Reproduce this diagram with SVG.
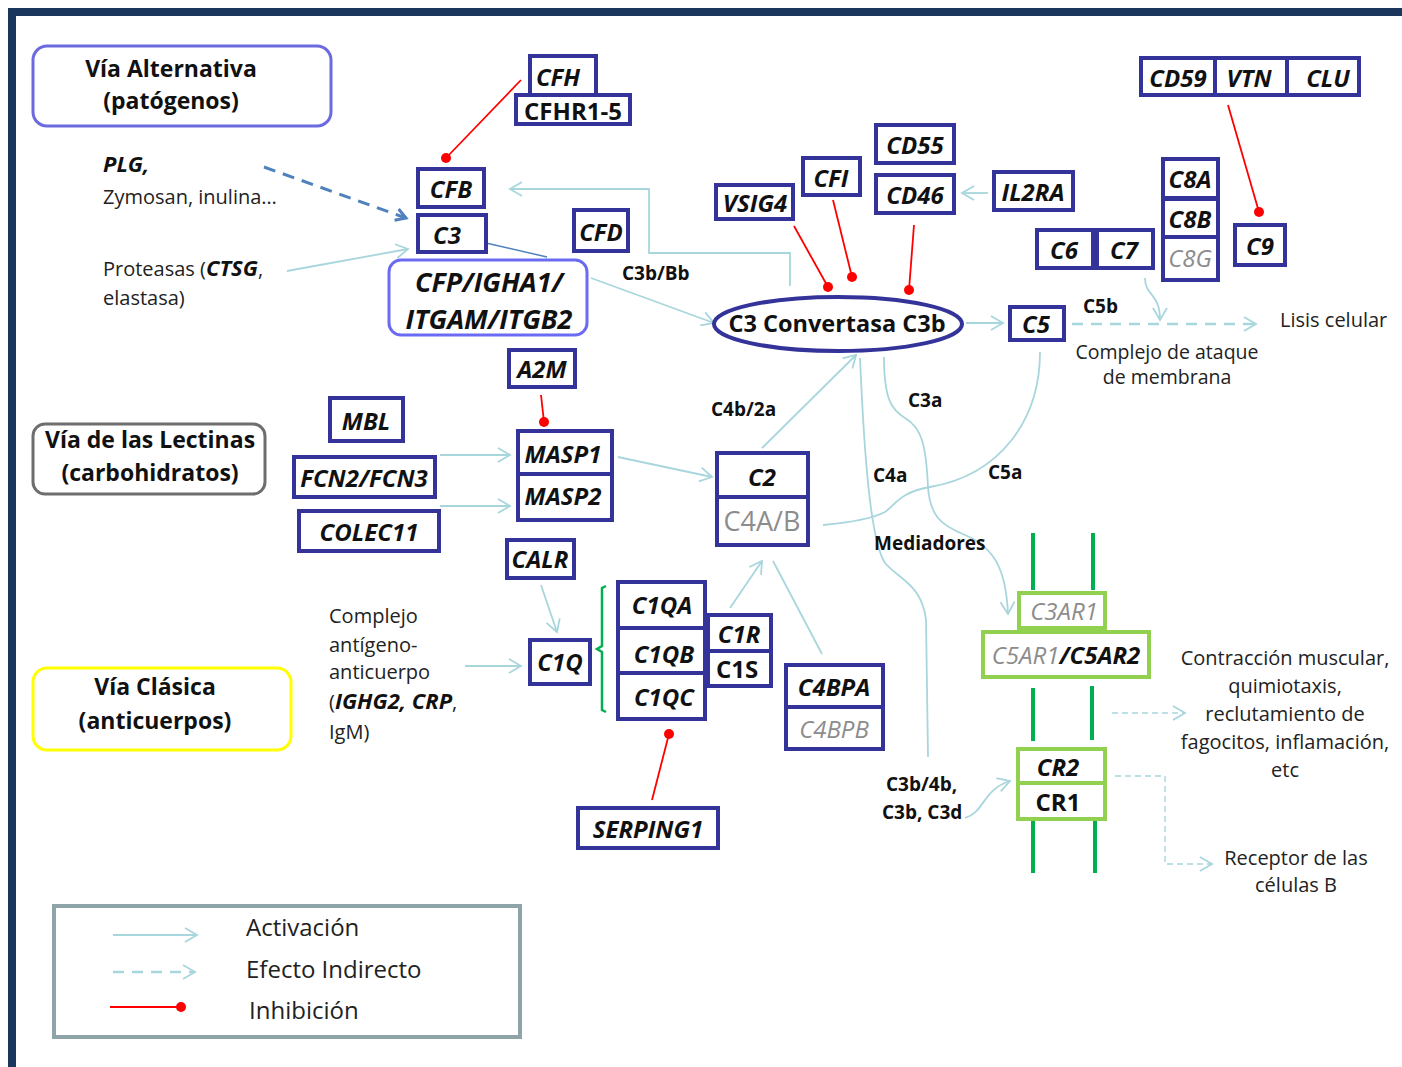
<svg xmlns="http://www.w3.org/2000/svg" width="1402" height="1067" viewBox="0 0 1402 1067">
<style>
.box{fill:#fff;stroke:#333399;stroke-width:4}
.gbox{fill:#fff;stroke:#92D050;stroke-width:4}
.t{font-family:"Open Sans",Lato,"Liberation Sans",sans-serif;font-weight:bold;font-style:italic;font-size:24px;fill:#111;text-anchor:middle;dominant-baseline:central}
.n{font-style:normal}
.gr{font-weight:normal;fill:#8c8c8c}
.big{font-size:27px}
.p{font-family:"Open Sans",Lato,"Liberation Sans",sans-serif;font-size:20px;fill:#222}
.leg{font-size:24px}
.lb{font-family:"Open Sans",Lato,"Liberation Sans",sans-serif;font-size:19px;font-weight:bold;fill:#111}
.path{font-family:"Open Sans",Lato,"Liberation Sans",sans-serif;font-size:23px;font-weight:bold;fill:#111;text-anchor:middle}
.act{fill:none;stroke:#A8D6DD;stroke-width:1.8;marker-end:url(#ah)}
.ln{fill:none;stroke:#A8D6DD;stroke-width:1.8}
.dsh{fill:none;stroke:#A8D6DD;stroke-width:2.5;stroke-dasharray:11 8;marker-end:url(#ah)}
.dsh2{fill:none;stroke:#A8D6DD;stroke-width:1.4;stroke-dasharray:6 4;marker-end:url(#ah)}
.inh{fill:none;stroke:#FF0000;stroke-width:1.8;marker-end:url(#dot)}
.mem{stroke:#00B050;stroke-width:4}
</style>
<defs>
<marker id="ah" viewBox="0 0 16 16" refX="14" refY="8" markerWidth="16" markerHeight="16" markerUnits="userSpaceOnUse" orient="auto">
<path d="M2,1 L14,8 L2,15" fill="none" stroke="#A8D6DD" stroke-width="1.8"/>
</marker>
<marker id="ahb" viewBox="0 0 16 16" refX="13" refY="8" markerWidth="16" markerHeight="16" markerUnits="userSpaceOnUse" orient="auto">
<path d="M3,2 L13,8 L3,14" fill="none" stroke="#4F81BD" stroke-width="3"/>
</marker>
<marker id="dot" viewBox="0 0 12 12" refX="6" refY="6" markerWidth="12" markerHeight="12" markerUnits="userSpaceOnUse">
<circle cx="6" cy="6" r="5" fill="#FF0000"/>
</marker>
</defs>
<rect width="1402" height="1067" fill="#fff"/>
<g id="frame">
<rect x="8" y="8" width="1394" height="8" fill="#1B365D"/>
<rect x="8" y="8" width="8" height="1059" fill="#1B365D"/>
</g>

<g id="connectors">
<path class="act" d="M287,271 L408,249"/>
<path d="M264,167 L406,218" fill="none" stroke="#4F81BD" stroke-width="3" stroke-dasharray="12 8" marker-end="url(#ahb)"/>
<path d="M486,243 L547,257" fill="none" stroke="#4F81BD" stroke-width="1.5"/>
<path class="act" d="M790,286 L790,253 L649,253 L649,189 L510,189"/>
<path class="act" d="M591,278 L714,323"/>
<path class="act" d="M966,323 L1003,323"/>
<path class="dsh" d="M1072,324 L1256,324"/>
<path class="act" d="M1145,278 C1145,296 1160,293 1160,320"/>
<path class="act" d="M988,193 L962,193"/>
<path class="act" d="M440,455 L510,455"/>
<path class="act" d="M440,506 L510,506"/>
<path class="act" d="M618,457 L712,477"/>
<path class="act" d="M762,448 L856,355"/>
<path class="act" d="M541,585 L557,632"/>
<path class="act" d="M465,666 L521,666"/>
<path class="act" d="M730,608 L762,561"/>
<path class="ln" d="M773,561 L822,654"/>
<path class="ln" d="M860,358 C864,450 870,540 885,563 C900,580 922,585 926,620 L928,757"/>
<path class="act" d="M884,357 C884,400 892,410 905,418 C922,428 926,445 928,487 C930,515 940,525 965,535 C995,548 1006,570 1008,614"/>
<path class="ln" d="M1040,352 C1040,420 1000,475 930,487 C900,492 895,505 885,512 C870,520 845,523 823,525"/>
<path class="act" d="M965,818 C985,812 982,790 1010,781"/>
<path class="dsh2" d="M1112,713 L1185,713"/>
<path class="dsh2" d="M1115,776 L1165,776 L1165,864 L1212,864"/>
<path class="inh" d="M521,80 L446,158"/>
<path class="inh" d="M794,226 L828,287"/>
<path class="inh" d="M833,200 L852,277"/>
<path class="inh" d="M914,225 L909,290"/>
<path class="inh" d="M1228,105 L1259,212"/>
<path class="inh" d="M541,395 L544,422"/>
<path class="inh" d="M652,800 L669,734"/>
<path d="M606,586 L602,588 L602,646 L597,649 L602,652 L602,710 L606,712" fill="none" stroke="#00B050" stroke-width="2.5"/>
</g>

<g id="membrane">
<line class="mem" x1="1033" y1="533" x2="1033" y2="590"/>
<line class="mem" x1="1093" y1="533" x2="1093" y2="590"/>
<line class="mem" x1="1033" y1="688" x2="1033" y2="741"/>
<line class="mem" x1="1092" y1="686" x2="1092" y2="740"/>
<line class="mem" x1="1033" y1="820" x2="1033" y2="873"/>
<line class="mem" x1="1095" y1="820" x2="1095" y2="873"/>
</g>

<g id="via-alternativa">
<rect x="33" y="46" width="298" height="80" rx="14" fill="#fff" stroke="#6B6BDF" stroke-width="3"/>
<text class="path" x="171" y="77">Vía Alternativa</text>
<text class="path" x="171" y="109">(patógenos)</text>
</g>
<g id="via-lectinas">
<rect x="33" y="424" width="232" height="70" rx="12" fill="#fff" stroke="#6E6E6E" stroke-width="3"/>
<text class="path" x="150" y="448">Vía de las Lectinas</text>
<text class="path" x="150" y="481">(carbohidratos)</text>
</g>
<g id="via-clasica">
<rect x="33" y="668" width="258" height="82" rx="14" fill="#fff" stroke="#FFFF00" stroke-width="3"/>
<text class="path" x="155" y="695">Vía Clásica</text>
<text class="path" x="155" y="729">(anticuerpos)</text>
</g>

<g id="texts">
<text class="p" x="103" y="172" style="font-weight:bold;font-style:italic;font-size:22px;fill:#111">PLG,</text>
<text class="p" x="103" y="204">Zymosan, inulina…</text>
<text class="p" x="103" y="276">Proteasas (<tspan style="font-weight:bold;font-style:italic;font-size:22px;fill:#111">CTSG</tspan>,</text>
<text class="p" x="103" y="305">elastasa)</text>
<text class="p" x="329" y="623">Complejo</text>
<text class="p" x="329" y="652">antígeno-</text>
<text class="p" x="329" y="679">anticuerpo</text>
<text class="p" x="329" y="709">(<tspan style="font-weight:bold;font-style:italic;font-size:22px;fill:#111">IGHG2, CRP</tspan>,</text>
<text class="p" x="329" y="739">IgM)</text>
<text class="lb" x="622" y="280">C3b/Bb</text>
<text class="lb" x="711" y="416">C4b/2a</text>
<text class="lb" x="908" y="407">C3a</text>
<text class="lb" x="873" y="482">C4a</text>
<text class="lb" x="988" y="479">C5a</text>
<text class="lb" x="874" y="550">Mediadores</text>
<text class="lb" x="886" y="791">C3b/4b,</text>
<text class="lb" x="882" y="819">C3b, C3d</text>
<text class="lb" x="1083" y="313">C5b</text>
<text class="p" x="1280" y="327">Lisis celular</text>
<text class="p" x="1167" y="359" text-anchor="middle" style="font-size:19.5px">Complejo de ataque</text>
<text class="p" x="1167" y="384" text-anchor="middle" style="font-size:19.5px">de membrana</text>
<text class="p" x="1285" y="665" text-anchor="middle">Contracción muscular,</text>
<text class="p" x="1285" y="693" text-anchor="middle">quimiotaxis,</text>
<text class="p" x="1285" y="721" text-anchor="middle">reclutamiento de</text>
<text class="p" x="1285" y="749" text-anchor="middle">fagocitos, inflamación,</text>
<text class="p" x="1285" y="777" text-anchor="middle">etc</text>
<text class="p" x="1296" y="865" text-anchor="middle">Receptor de las</text>
<text class="p" x="1296" y="892" text-anchor="middle">células B</text>
</g>

<g id="CFH"><rect class="box" x="530" y="56" width="66" height="39"/><text class="t" x="558" y="76">CFH</text></g>
<g id="CFHR1-5"><rect class="box" x="516" y="95" width="114" height="29"/><text class="t n" x="573" y="110">CFHR1-5</text></g>
<g id="CFB"><rect class="box" x="418" y="169" width="66" height="38"/><text class="t" x="451" y="188">CFB</text></g>
<g id="C3"><rect class="box" x="418" y="215" width="68" height="37"/><text class="t" x="447" y="234">C3</text></g>
<g id="CFD"><rect class="box" x="574" y="210" width="54" height="41"/><text class="t" x="601" y="231">CFD</text></g>
<g id="CFP"><rect x="389" y="260" width="198" height="75" rx="12" fill="#fff" stroke="#6A6AF2" stroke-width="3"/>
<text class="t big" x="489" y="281">CFP/IGHA1/</text><text class="t big" x="489" y="318">ITGAM/ITGB2</text></g>
<g id="VSIG4"><rect class="box" x="716" y="185" width="77" height="34"/><text class="t" x="755" y="202">VSIG4</text></g>
<g id="CFI"><rect class="box" x="803" y="158" width="57" height="37"/><text class="t" x="831" y="177">CFI</text></g>
<g id="CD55"><rect class="box" x="876" y="125" width="78" height="38"/><text class="t" x="915" y="144">CD55</text></g>
<g id="CD46"><rect class="box" x="876" y="175" width="78" height="38"/><text class="t" x="915" y="194">CD46</text></g>
<g id="IL2RA"><rect class="box" x="994" y="172" width="79" height="38"/><text class="t" x="1033" y="191">IL2RA</text></g>
<g id="C3conv"><ellipse cx="838" cy="324" rx="124" ry="27" fill="#fff" stroke="#333399" stroke-width="4"/><text class="t n" x="837" y="323" style="font-size:23.5px">C3 Convertasa C3b</text></g>
<g id="C5"><rect class="box" x="1010" y="307" width="54" height="33"/><text class="t" x="1036" y="323">C5</text></g>
<g id="CD59"><rect class="box" x="1141" y="58" width="74" height="37"/><text class="t" x="1178" y="77">CD59</text></g>
<g id="VTN"><rect class="box" x="1215" y="58" width="72" height="37"/><text class="t" x="1249" y="77">VTN</text></g>
<g id="CLU"><rect class="box" x="1287" y="58" width="72" height="37"/><text class="t" x="1328" y="77">CLU</text></g>
<g id="C6"><rect class="box" x="1037" y="230" width="56" height="38"/><text class="t" x="1064" y="249">C6</text></g>
<g id="C7"><rect class="box" x="1097" y="230" width="56" height="38"/><text class="t" x="1124" y="249">C7</text></g>
<g id="C8A"><rect class="box" x="1163" y="159" width="55" height="39"/><text class="t" x="1190" y="178">C8A</text></g>
<g id="C8B"><rect class="box" x="1163" y="199" width="55" height="38"/><text class="t" x="1190" y="218">C8B</text></g>
<g id="C8G"><rect class="box" x="1163" y="237" width="55" height="43"/><text class="t gr" x="1190" y="257">C8G</text></g>
<g id="C9"><rect class="box" x="1235" y="225" width="50" height="40"/><text class="t" x="1260" y="245">C9</text></g>
<g id="MBL"><rect class="box" x="330" y="398" width="73" height="43"/><text class="t" x="366" y="420">MBL</text></g>
<g id="FCN2-FCN3"><rect class="box" x="294" y="457" width="141" height="40"/><text class="t" x="364" y="477">FCN2/FCN3</text></g>
<g id="COLEC11"><rect class="box" x="299" y="511" width="140" height="40"/><text class="t" x="369" y="531">COLEC11</text></g>
<g id="A2M"><rect class="box" x="509" y="350" width="66" height="37"/><text class="t" x="542" y="368">A2M</text></g>
<g id="MASP1"><rect class="box" x="518" y="431" width="94" height="43"/><text class="t" x="563" y="453">MASP1</text></g>
<g id="MASP2"><rect class="box" x="518" y="474" width="94" height="46"/><text class="t" x="563" y="495">MASP2</text></g>
<g id="C2"><rect class="box" x="717" y="453" width="91" height="44"/><text class="t" x="762" y="476">C2</text></g>
<g id="C4AB"><rect class="box" x="717" y="497" width="91" height="48"/><text class="t gr n" x="762" y="520" style="font-size:27px">C4A/B</text></g>
<g id="CALR"><rect class="box" x="507" y="540" width="67" height="38"/><text class="t" x="540" y="558">CALR</text></g>
<g id="C1Q"><rect class="box" x="530" y="640" width="60" height="44"/><text class="t" x="560" y="661">C1Q</text></g>
<g id="C1QA"><rect class="box" x="618" y="582" width="87" height="46"/><text class="t" x="662" y="604">C1QA</text></g>
<g id="C1QB"><rect class="box" x="618" y="628" width="87" height="45"/><text class="t" x="664" y="653">C1QB</text></g>
<g id="C1QC"><rect class="box" x="618" y="673" width="87" height="46"/><text class="t" x="664" y="696">C1QC</text></g>
<g id="C1R"><rect class="box" x="708" y="615" width="63" height="36"/><text class="t" x="739" y="633">C1R</text></g>
<g id="C1S"><rect class="box" x="708" y="651" width="63" height="35"/><text class="t n" x="737" y="668">C1S</text></g>
<g id="C4BPA"><rect class="box" x="786" y="665" width="97" height="42"/><text class="t" x="834" y="686">C4BPA</text></g>
<g id="C4BPB"><rect class="box" x="786" y="707" width="97" height="42"/><text class="t gr" x="834" y="728">C4BPB</text></g>
<g id="SERPING1"><rect class="box" x="578" y="808" width="140" height="40"/><text class="t" x="648" y="828">SERPING1</text></g>
<g id="C3AR1"><rect class="gbox" x="1019" y="593" width="86" height="35"/><text class="t gr" x="1064" y="610">C3AR1</text></g>
<g id="C5AR"><rect class="gbox" x="983" y="632" width="166" height="45"/><text class="t" x="1066" y="654"><tspan style="fill:#8c8c8c;font-weight:normal">C5AR1</tspan>/C5AR2</text></g>
<g id="CR2"><rect class="gbox" x="1018" y="749" width="87" height="34"/><text class="t" x="1058" y="766">CR2</text></g>
<g id="CR1"><rect class="gbox" x="1018" y="783" width="87" height="36"/><text class="t n" x="1058" y="801">CR1</text></g>

<g id="legend">
<rect x="54" y="906" width="466" height="131" fill="#fff" stroke="#8FA4A8" stroke-width="4"/>
<path class="act" d="M113,935 L197,935"/>
<path class="dsh" d="M113,972 L195,972"/>
<path class="inh" d="M110,1007 L181,1007"/>
<text class="p leg" x="246" y="936">Activación</text>
<text class="p leg" x="246" y="978">Efecto Indirecto</text>
<text class="p leg" x="249" y="1019">Inhibición</text>
</g>
</svg>
